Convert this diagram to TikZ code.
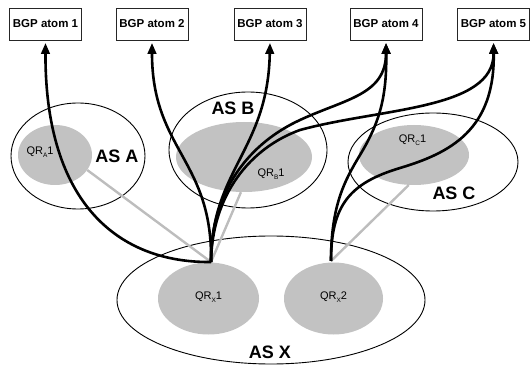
\documentclass[tikz,border=0pt]{standalone}
\usepackage{fontspec}
\setmainfont{Liberation Sans}
\usetikzlibrary{arrows.meta,shapes.geometric}
\definecolor{qrgray}{HTML}{C2C2C2}
\definecolor{lgray}{HTML}{BDBDBD}
\newcommand\qrsub[1]{\raisebox{-0.45ex}{\fontsize{6.5}{7}\selectfont #1}}
\begin{document}
\begin{tikzpicture}[x=1pt,y=-1pt,
  atom/.style={draw=black!85, line width=0.8pt, minimum width=72pt, minimum height=32pt, inner sep=0pt, fill=white, font=\fontsize{11.5}{13}\selectfont\bfseries},
  asell/.style={ellipse, draw, line width=0.9pt, inner sep=0pt},
  qr/.style={ellipse, fill=qrgray, inner sep=0pt},
  aslabel/.style={font=\fontsize{18}{20}\selectfont\bfseries, inner sep=0pt},
  qrlabel/.style={font=\fontsize{11}{13}\selectfont, inner sep=0pt},
  route/.style={line width=2.6pt, -{Triangle[length=11pt,width=8.5pt]}, shorten >=2.5pt},
  link/.style={line width=2.4pt, draw=lgray},
]
\useasboundingbox (0,0) rectangle (530,366);

% AS ellipses
\node[asell, minimum width=134pt, minimum height=106pt] (asa) at (78,156) {};
\node[asell, minimum width=158pt, minimum height=116pt] (asb) at (248,150) {};
\node[asell, minimum width=170pt, minimum height=98pt] (asc) at (433,162) {};
\node[asell, minimum width=308pt, minimum height=128pt] (asx) at (271,300) {};

% QR ellipses
\node[qr, minimum width=74pt, minimum height=60pt] (qra) at (55,155) {};
\node[qr, minimum width=136pt, minimum height=70pt] (qrb) at (244,157) {};
\node[qr, minimum width=110pt, minimum height=60pt] (qrc) at (414,155) {};
\node[qr, minimum width=101pt, minimum height=72pt] (qrx1) at (208.5,298.5) {};
\node[qr, minimum width=99pt, minimum height=72pt] (qrx2) at (333.5,298.5) {};

% BGP atoms
\node[atom] (b1) at (45.5,24) {BGP atom 1};
\node[atom] (b2) at (152,24) {BGP atom 2};
\node[atom] (b3) at (270,24) {BGP atom 3};
\node[atom] (b4) at (386,24) {BGP atom 4};
\node[atom] (b5) at (493.5,24) {BGP atom 5};

% junctions and waypoints
\coordinate (J1) at (211,262);
\coordinate (J2) at (331,261);
\coordinate (w4) at (300,120);
\coordinate (w5) at (300,130);
\coordinate (v4) at (360,155);
\coordinate (v5) at (400,168);

% gray links
\draw[link] (J1) -- (qra.-25);
\draw[link] (J1) -- (qrb.-95);
\draw[link] (J2) -- (qrc.-100);

% routes
\draw[route] (J1) .. controls (120,263) and (45,205) .. (b1.south);
\draw[route] (J1) .. controls (213,160) and (152,150) .. (b2.south);
\draw[route] (J1) .. controls (211,170) and (268,150) .. (b3.south);
\draw[route] (J1) .. controls (211,190) and (250,143) .. (w4) .. controls (345,99) and (386,95) .. (b4.south);
\draw[route] (J1) .. controls (212,195) and (250,148) .. (w5) .. controls (380,108) and (494,110) .. (b5.south);
\draw[route] (J2) .. controls (331,205) and (345,180) .. (v4) .. controls (378,125) and (387,100) .. (b4.south);
\draw[route] (J2) .. controls (331,205) and (350,183) .. (v5) .. controls (450,153) and (495,130) .. (b5.south);

% labels
\node[qrlabel] (ta) at (40,152) {QR\qrsub{A}1};
\node[qrlabel] (tb) at (271,174) {QR\qrsub{B}1};
\node[qrlabel] (tc) at (412.5,140) {QR\qrsub{C}1};
\node[qrlabel] (tx1) at (208.5,297) {QR\qrsub{X}1};
\node[qrlabel] (tx2) at (333.5,297) {QR\qrsub{X}2};
\node[aslabel] (la) at (117,156) {AS A};
\node[aslabel] (lb) at (233,108) {AS B};
\node[aslabel] (lc) at (454,193) {AS C};
\node[aslabel] (lx) at (270,352.5) {AS X};
\end{tikzpicture}
\end{document}
